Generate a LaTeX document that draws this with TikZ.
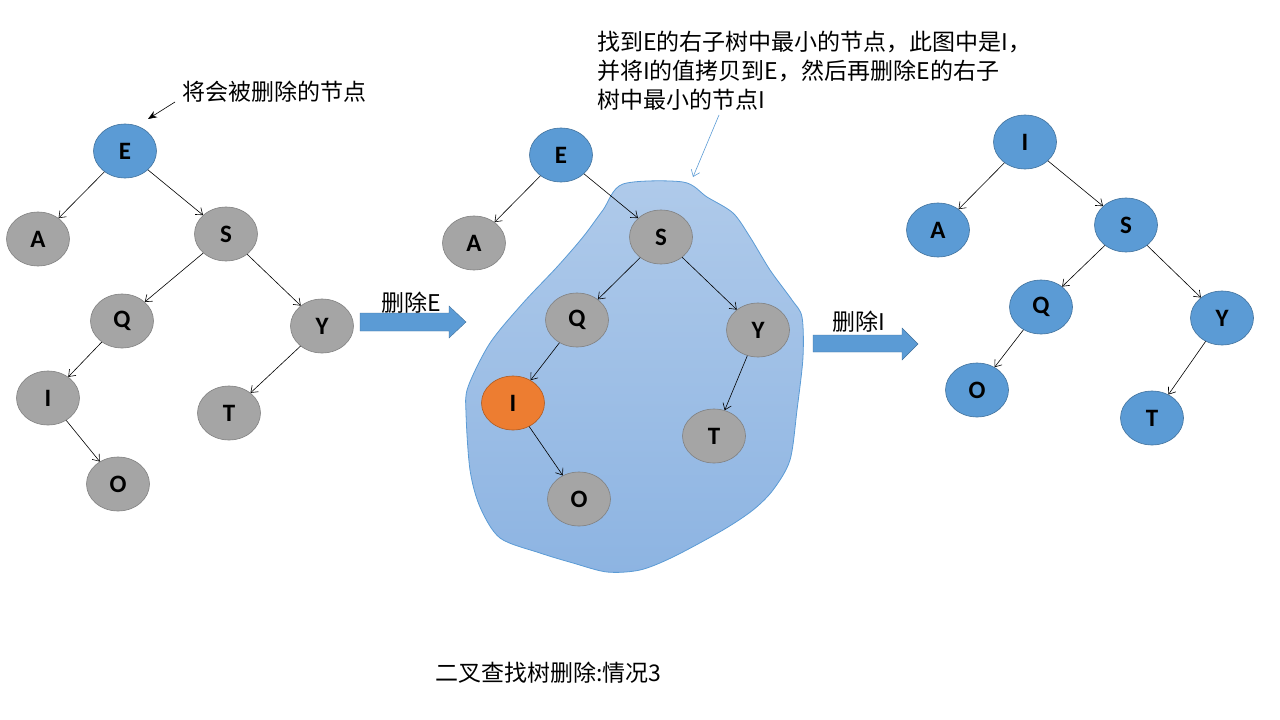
\documentclass[tikz,border=0pt]{standalone}
\usepackage{fontspec}
\setmainfont{Carlito}
\newfontfamily\cjk{Noto Sans CJK SC}
\usetikzlibrary{arrows.meta,shapes.geometric}
\definecolor{nodeblue}{RGB}{91,155,213}
\definecolor{nodeblueline}{RGB}{65,113,156}
\definecolor{nodegray}{RGB}{165,165,165}
\definecolor{nodegrayline}{RGB}{128,128,128}
\definecolor{nodeorange}{RGB}{237,125,49}
\definecolor{nodeorangeline}{RGB}{174,90,33}
\definecolor{blobtop}{RGB}{175,202,234}
\definecolor{blobbottom}{RGB}{141,180,226}

\begin{document}
\begin{tikzpicture}[x=1pt, y=-1pt,
    tnode/.style={ellipse, minimum width=63pt, minimum height=54pt, inner sep=0pt,
      line width=0.6pt, font=\bfseries\fontsize{25}{25}\selectfont},
    bluenode/.style={tnode, fill=nodeblue, draw=nodeblueline},
    graynode/.style={tnode, fill=nodegray, draw=nodegrayline},
    orangenode/.style={tnode, fill=nodeorange, draw=nodeorangeline},
    edge/.style={-{Straight Barb[length=6pt,width=9pt]}, line width=0.6pt},
    cjktext/.style={font=\cjk\fontsize{23}{29}\selectfont, inner sep=0pt, align=left},
    bigarrow/.style={fill=nodeblue, draw=nodeblueline, line width=0.4pt}]
  \useasboundingbox (0,0) rectangle (1280,720);

  % the right subtree of E
  \draw[nodeblue, line width=0.8pt, top color=blobtop, bottom color=blobbottom]
    plot[smooth cycle, tension=0.5] coordinates {(623,184) (683,182) (707,197)
      (733,213) (750,237) (770,270) (792,300) (802,317) (803,357) (797,410)
      (790,460) (773,490) (753,510) (723,530) (673,557) (640,570) (607,572)
      (573,563) (540,553) (500,538) (480,507) (470,470) (466,413) (468,387)
      (490,343) (523,303) (557,267) (583,237) (603,210)};

  % left tree
  \node[bluenode] (lE) at (125,151) {E};
  \node[graynode] (lA) at (38,239) {A};
  \node[graynode] (lS) at (226,234) {S};
  \node[graynode] (lQ) at (122,321) {Q};
  \node[graynode] (lY) at (322,326) {Y};
  \node[graynode] (lI) at (48,398) {I};
  \node[graynode] (lT) at (229,413) {T};
  \node[graynode] (lO) at (118,484) {O};

  % middle tree
  \node[bluenode] (mE) at (561,155) {E};
  \node[graynode] (mA) at (474,243) {A};
  \node[graynode] (mS) at (661,237) {S};
  \node[graynode] (mQ) at (577,320) {Q};
  \node[graynode] (mY) at (758,330) {Y};
  \node[orangenode] (mI) at (513,403) {I};
  \node[graynode] (mT) at (714,436) {T};
  \node[graynode] (mO) at (579,499) {O};

  % right tree
  \node[bluenode] (rI) at (1025,142) {I};
  \node[bluenode] (rA) at (938,230) {A};
  \node[bluenode] (rS) at (1126,225) {S};
  \node[bluenode] (rQ) at (1041,307) {Q};
  \node[bluenode] (rY) at (1222,318) {Y};
  \node[bluenode] (rO) at (977,390) {O};
  \node[bluenode] (rT) at (1152,418) {T};

  \foreach \a/\b in {lE/lA, lE/lS, lS/lQ, lS/lY, lQ/lI, lI/lO, lY/lT,
      mE/mA, mE/mS, mS/mQ, mS/mY, mQ/mI, mI/mO, mY/mT,
      rI/rA, rI/rS, rS/rQ, rS/rY, rQ/rO, rY/rT}
    \draw[edge] (\a) -- (\b);

  % notes
  \node[cjktext, anchor=west] (delnote) at (182,92) {将会被删除的节点};
  \coordinate (deltail) at (175,102);
  \coordinate (delhead) at (148,119);
  \draw[-{Stealth[length=9pt,width=7pt]}, line width=0.6pt] (deltail) -- (delhead);

  \node[cjktext, anchor=north west] (findnote) at (597,31)
    {找到E的右子树中最小的节点，此图中是I，\\并将I的值拷贝到E，然后再删除E的右子\\树中最小的节点I};
  \coordinate (findtail) at (719,115);
  \coordinate (findhead) at (693,177);
  \draw[edge, nodeblue] (findtail) -- (findhead);

  % steps
  \draw[bigarrow] (360,313) -- (449,313) -- (449,306) -- (466,322) -- (449,338)
    -- (449,331) -- (360,331) -- cycle;
  \node[cjktext, anchor=west] (step1) at (381,303) {删除E};
  \draw[bigarrow] (813,335) -- (902,335) -- (902,328) -- (918,344) -- (902,360)
    -- (902,352) -- (813,352) -- cycle;
  \node[cjktext, anchor=west] (step2) at (832,322) {删除I};

  \node[cjktext, anchor=west] (caption) at (435,673) {二叉查找树删除:情况3};
\end{tikzpicture}
\end{document}
